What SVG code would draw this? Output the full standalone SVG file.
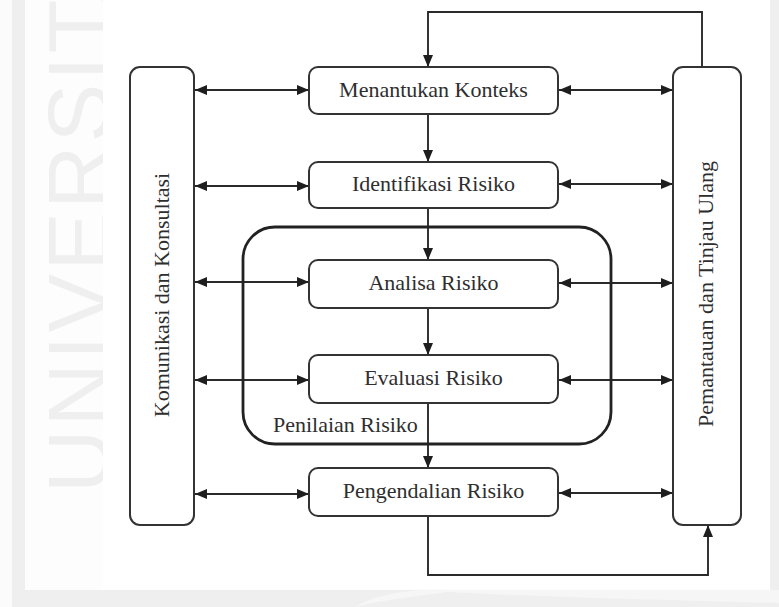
<svg xmlns="http://www.w3.org/2000/svg" width="779" height="607" viewBox="0 0 779 607">
  <style>
    .box { fill: #ffffff; stroke: #333333; stroke-width: 2; }
    .group { fill: none; stroke: #222222; stroke-width: 2.8; }
    .lbl { font-family: "Liberation Serif", "Times New Roman", serif; font-size: 22px; fill: #2e2e2e; }
    .mid { text-anchor: middle; }
    .conn { fill: none; stroke: #2a2a2a; stroke-width: 1.9; }
    .wm { font-family: "Liberation Sans", Arial, sans-serif; font-size: 88px; fill: #efefef; }
  </style>
  <defs>
    <marker id="arr" viewBox="0 0 12 10" refX="12" refY="5" markerWidth="12" markerHeight="10" markerUnits="userSpaceOnUse" orient="auto-start-reverse">
      <path d="M0,0 L12,5 L0,10 z" fill="#1e1e1e"/>
    </marker>
  </defs>

  <!-- background and faint watermark -->
  <g id="background">
    <rect x="0" y="0" width="779" height="607" fill="#fbfbfb"/>
    <rect x="12" y="0" width="767" height="607" fill="#efefef"/>
    <rect x="25" y="0" width="745" height="590" fill="#fdfdfd"/>
    <path d="M355,607 C380,592 420,589 447,590 L770,590 L779,590 L779,603 C650,600 520,596 447,592 C420,596 380,600 355,607 z" fill="#f6f6f6"/>
    <text class="wm" transform="translate(109,493) rotate(-90)" letter-spacing="3">UNIVERSITAS</text>
    <rect x="103" y="0" width="667" height="589" fill="#ffffff"/>
  </g>

  <!-- connectors -->
  <g id="connectors">
    <!-- left side two-way arrows -->
    <line class="conn" x1="195" y1="90" x2="309" y2="90" marker-start="url(#arr)" marker-end="url(#arr)"/>
    <line class="conn" x1="195" y1="186" x2="309" y2="186" marker-start="url(#arr)" marker-end="url(#arr)"/>
    <line class="conn" x1="195" y1="282" x2="309" y2="282" marker-start="url(#arr)" marker-end="url(#arr)"/>
    <line class="conn" x1="195" y1="380" x2="309" y2="380" marker-start="url(#arr)" marker-end="url(#arr)"/>
    <line class="conn" x1="195" y1="494" x2="309" y2="494" marker-start="url(#arr)" marker-end="url(#arr)"/>
    <!-- right side two-way arrows -->
    <line class="conn" x1="559" y1="90" x2="673" y2="90" marker-start="url(#arr)" marker-end="url(#arr)"/>
    <line class="conn" x1="559" y1="184" x2="673" y2="184" marker-start="url(#arr)" marker-end="url(#arr)"/>
    <line class="conn" x1="559" y1="283" x2="673" y2="283" marker-start="url(#arr)" marker-end="url(#arr)"/>
    <line class="conn" x1="559" y1="380" x2="673" y2="380" marker-start="url(#arr)" marker-end="url(#arr)"/>
    <line class="conn" x1="559" y1="493" x2="673" y2="493" marker-start="url(#arr)" marker-end="url(#arr)"/>
    <!-- vertical flow -->
    <line class="conn" x1="428" y1="114" x2="428" y2="162" marker-end="url(#arr)"/>
    <line class="conn" x1="428" y1="208" x2="428" y2="260" marker-end="url(#arr)"/>
    <line class="conn" x1="428" y1="308" x2="428" y2="355" marker-end="url(#arr)"/>
    <line class="conn" x1="428" y1="403" x2="428" y2="468" marker-end="url(#arr)"/>
    <!-- feedback loops -->
    <polyline class="conn" points="702,67 702,12 428,12 428,67" marker-end="url(#arr)"/>
    <polyline class="conn" points="428,516 428,575 708,575 708,525" marker-end="url(#arr)"/>
  </g>

  <g id="penilaian-risiko">
    <rect class="group" x="243" y="227" width="368" height="217" rx="32" ry="32"/>
    <text class="lbl" x="273" y="432">Penilaian Risiko</text>
  </g>

  <g id="komunikasi">
    <rect class="box" x="130" y="67" width="64" height="458" rx="10" ry="10"/>
    <text class="lbl mid" transform="translate(169,295) rotate(-90)">Komunikasi dan Konsultasi</text>
  </g>

  <g id="pemantauan">
    <rect class="box" x="673" y="67" width="68" height="458" rx="10" ry="10"/>
    <text class="lbl mid" transform="translate(713,294) rotate(-90)">Pemantauan dan Tinjau Ulang</text>
  </g>

  <g id="menantukan-konteks">
    <rect class="box" x="309" y="67" width="249" height="47" rx="9" ry="9"/>
    <text class="lbl mid" x="433.5" y="97">Menantukan Konteks</text>
  </g>

  <g id="identifikasi-risiko">
    <rect class="box" x="309" y="162" width="249" height="46" rx="9" ry="9"/>
    <text class="lbl mid" x="433.5" y="191">Identifikasi Risiko</text>
  </g>

  <g id="analisa-risiko">
    <rect class="box" x="309" y="260" width="249" height="48" rx="9" ry="9"/>
    <text class="lbl mid" x="433.5" y="290">Analisa Risiko</text>
  </g>

  <g id="evaluasi-risiko">
    <rect class="box" x="309" y="355" width="249" height="48" rx="9" ry="9"/>
    <text class="lbl mid" x="433.5" y="385">Evaluasi Risiko</text>
  </g>

  <g id="pengendalian-risiko">
    <rect class="box" x="309" y="468" width="249" height="48" rx="9" ry="9"/>
    <text class="lbl mid" x="433.5" y="498">Pengendalian Risiko</text>
  </g>
</svg>
